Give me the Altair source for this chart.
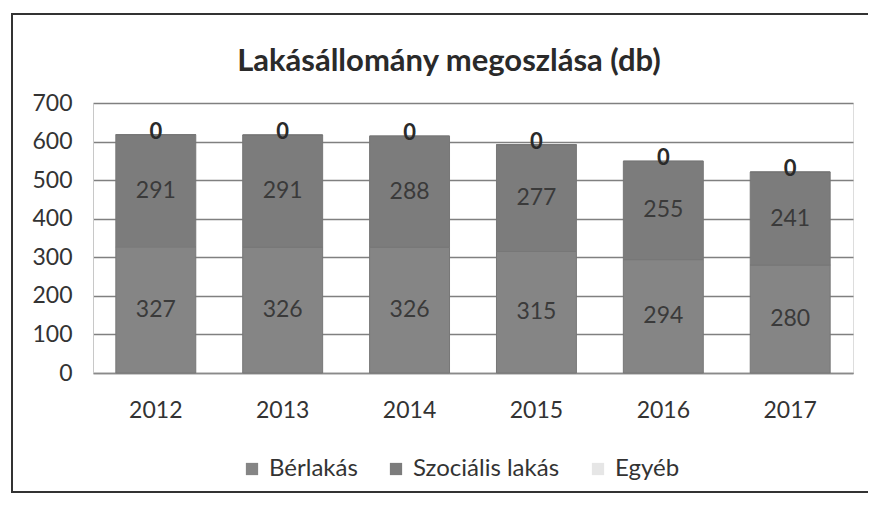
import altair as alt
import pandas as pd

years = ["2012", "2013", "2014", "2015", "2016", "2017"]
berlakas = [327, 326, 326, 315, 294, 280]
szocialis = [291, 291, 288, 277, 255, 241]
egyeb = [0, 0, 0, 0, 0, 0]
series = ["Bérlakás", "Szociális lakás", "Egyéb"]
colors = ["#858585", "#7c7c7c", "#e6e6e6"]
y_ticks = [0, 100, 200, 300, 400, 500, 600, 700]
title_text = "Lakásállomány megoszlása (db)"

rows = []
for i, y in enumerate(years):
    for k, (name, vals) in enumerate(zip(series, [berlakas, szocialis, egyeb])):
        rows.append({"year": y, "series": name, "value": vals[i], "ord": k})
df = pd.DataFrame(rows)

FONT = "Lato"
W, H = 760, 270

base = alt.Chart(df).transform_stack(
    stack="value", groupby=["year"], sort=[alt.SortField("ord")], as_=["y0", "y1"]
).transform_calculate(mid="(datum.y0 + datum.y1) / 2")

xscale = alt.Scale(domain=years, paddingInner=0.37, paddingOuter=0.18)
xaxis = alt.Axis(labelAngle=0, labelFontSize=23, labelColor="#333",
                 labelPadding=26, ticks=False, domainColor="#8a8a8a",
                 domainWidth=1.5, labelFont=FONT)
yscale = alt.Scale(domain=[0, 700], nice=False)
yaxis = alt.Axis(values=y_ticks, labelFontSize=23, labelColor="#333", labelPadding=21,
                 ticks=False, domain=True, domainColor="#c8c8c8", gridColor="#808080",
                 gridWidth=1.5, labelFont=FONT, labelOverlap=False)

bars = base.mark_bar(stroke="#777", strokeWidth=1).encode(
    x=alt.X("year:N", title=None, scale=xscale, axis=xaxis),
    y=alt.Y("y0:Q", title=None, scale=yscale, axis=yaxis),
    y2="y1:Q",
    color=alt.Color("series:N", scale=alt.Scale(domain=series, range=colors),
                    sort=series,
                    legend=alt.Legend(title=None, orient="none", direction="horizontal",
                                      legendX=147, legendY=354,
                                      symbolType="square", symbolSize=150,
                                      symbolStrokeWidth=0, labelOffset=5,
                                      labelFontSize=24, labelColor="#333",
                                      labelFont=FONT, columnPadding=26)),
    order=alt.Order("ord:Q"),
)

labels = base.transform_filter("datum.ord < 2").mark_text(
    fontSize=23, color="#3a3a3a", font=FONT
).encode(x=alt.X("year:N", title=None, scale=xscale, axis=xaxis),
         y=alt.Y("mid:Q", title=None, scale=yscale, axis=yaxis),
         text=alt.Text("value:Q"))

zeros = base.transform_filter("datum.ord == 2").mark_text(
    fontSize=22, color="#2a2a2a", font=FONT, fontWeight="bold", dy=-3
).encode(x=alt.X("year:N", title=None, scale=xscale, axis=xaxis),
         y=alt.Y("mid:Q", title=None, scale=yscale, axis=yaxis),
         text=alt.Text("value:Q"))

deco = alt.Chart(alt.Data(values=[{"t": title_text}]))
frame = deco.mark_rect(
    fillOpacity=0, stroke="#333", strokeWidth=2, clip=False
).encode(x=alt.value(-81), x2=alt.value(800), y=alt.value(-89), y2=alt.value(389))

title = deco.mark_text(
    fontSize=31, fontWeight="bold", font=FONT, color="#2a2a2a",
    align="center", baseline="middle"
).encode(x=alt.value(356), y=alt.value(-41), text="t:N")

chart = alt.layer(frame, bars, labels, zeros, title).properties(
    width=W, height=H,
    autosize=alt.AutoSizeParams(type="none"),
    padding={"left": 85, "top": 95, "right": 15, "bottom": 125},
).configure_view(stroke=None).configure(background="white")

chart.save("out.html", embed_options={"renderer": "svg", "actions": False})
